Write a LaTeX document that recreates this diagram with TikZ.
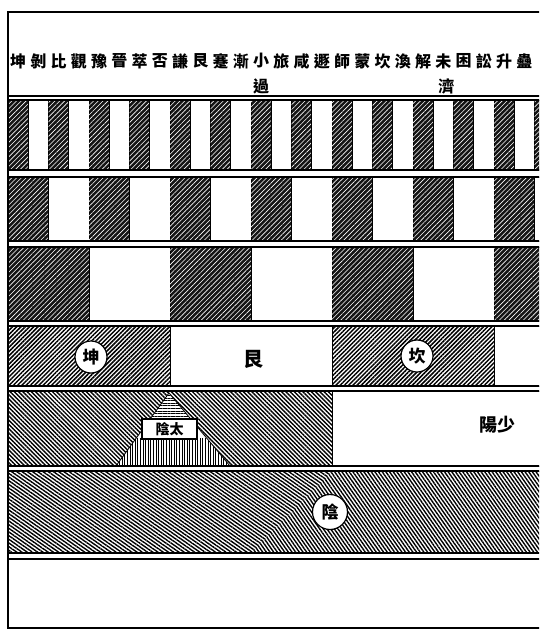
\documentclass[tikz,border=0pt]{standalone}
\usepackage{fontspec}
\newfontfamily\cjk{Noto Sans CJK TC}
\usepackage{tikz}
\usetikzlibrary{calc,patterns.meta}

\tikzset{
  yinA/.style={draw,line width=1pt,fill=black!92,postaction={pattern={Lines[angle=45,distance=3.4pt,line width=0.6pt]},pattern color=white}},
  yinB/.style={draw,line width=1pt,pattern={Lines[angle=45,distance=3pt,line width=1.5pt]}},
  yinC/.style={draw,line width=1pt,pattern={Lines[angle=-45,distance=3pt,line width=1.4pt]}},
  yang/.style={draw,line width=1pt,fill=white},
  band/.style={draw,line width=1.8pt},
  gua/.style={font=\cjk\bfseries\fontsize{16}{16}\selectfont,inner sep=0pt},
  ringmark/.style={circle,draw,fill=white,line width=1.2pt,inner sep=0pt,minimum size=32pt,font=\cjk\bfseries\fontsize{17}{17}\selectfont},
}

\begin{document}
\begin{tikzpicture}[x=1pt,y=-1pt]
	\useasboundingbox (0,0) rectangle (539,632);
	\fill[white] (0,0) rectangle (539,632);
	\begin{scope}
		\clip (0,0) rectangle (539,632);
		
		% four rows of bars, dark = yin, white = yang
		\foreach \w/\ya/\yb/\st in {20.25/100/170/yinA,40.5/177/241/yinA,81/247/321/yinA,162/326/386/yinB}{
			\foreach \k in {0,...,13}{
				\draw[\st] ({8+2*\k*\w},\ya) rectangle ({8+(2*\k+1)*\w},\yb);
				\draw[yang] ({8+(2*\k+1)*\w},\ya) rectangle ({8+(2*\k+2)*\w},\yb);
			}
		}
		
		% two halves
		\draw[yinC] (8,391) rectangle (332,466);
		\draw[yang] (332,391) rectangle (660,466);
		
		% small triangle with its label
		\coordinate (apex) at (169,393);
		\coordinate (baseL) at (116,466);
		\coordinate (baseR) at (230,466);
		\begin{scope}
			\clip (apex)--(baseL)--(baseR)--cycle;
			\fill[white] (100,390) rectangle (240,470);
			\fill[pattern={Lines[angle=0,distance=2.6pt,line width=0.9pt]}] (100,390) rectangle (240,420);
			\fill[pattern={Lines[angle=90,distance=2.6pt,line width=0.9pt]}] (100,438) rectangle (240,470);
		\end{scope}
		\draw[line width=0.8pt] (baseL)--(apex)--(baseR);
		\node[draw,fill=white,line width=1.2pt,minimum width=55pt,minimum height=20pt,inner sep=0pt,font=\cjk\bfseries\fontsize{14}{14}\selectfont] (taiyin) at (169.5,429) {陰太};
		\node[font=\cjk\bfseries\fontsize{18}{18}\selectfont] (shaoyang) at (497,425) {陽少};
		
		% whole yin row, split on the diagonal
		\coordinate (cutT) at (333,471);
		\coordinate (cutB) at (251,553);
		\fill[pattern={Lines[angle=-35,distance=3pt,line width=1.4pt]}] (8,471)--(cutT)--(cutB)--(8,553)--cycle;
		\fill[pattern={Lines[angle=-55,distance=3pt,line width=1.4pt]}] (cutT)--(660,471)--(660,553)--(cutB)--cycle;
		\node[ringmark,minimum size=35pt] (yin) at (330,512) {陰};
		
		% frames of the bands
		\draw[band] (8,12) rectangle (660,96);
		\draw[band] (8,100) rectangle (660,170);
		\draw[band] (8,177) rectangle (660,241);
		\draw[band] (8,247) rectangle (660,321);
		\draw[band] (8,326) rectangle (660,386);
		\draw[band] (8,391) rectangle (660,466);
		\draw[band] (8,471) rectangle (660,553);
		\draw[band] (8,559) rectangle (660,628);
		\draw[line width=1.8pt] (8,12)--(8,628);
		
		% names of the hexagrams
		\foreach \g [count=\i from 0] in {坤,剝,比,觀,豫,晉,萃,否,謙,艮,蹇,漸,小,旅,咸,遯,師,蒙,坎,渙,解,未,困,訟,升,蠱}{
			\node[gua] (g\i) at ({8+20.25*(\i+0.5)},61) {\g};
		}
		\node[gua] (guo) at ($(g12)+(0,25)$) {過};
		\node[gua] (ji) at ($(g21)+(3,25)$) {濟};
		
		% trigram labels
		\node[ringmark] (kun) at (91,357) {坤};
		\node[font=\cjk\bfseries\fontsize{20}{20}\selectfont] (gen) at (253,359) {艮};
		\node[ringmark] (kan) at (417,356) {坎};
	\end{scope}
\end{tikzpicture}
\end{document}
